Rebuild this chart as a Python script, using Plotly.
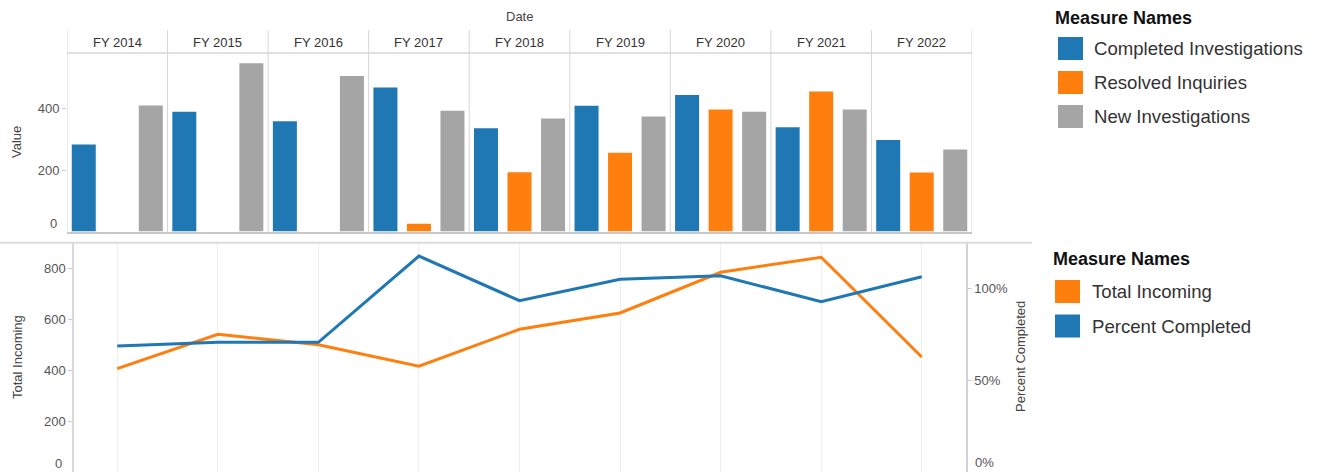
import plotly.graph_objects as go

# ---------------- data ----------------
years = ["FY 2014", "FY 2015", "FY 2016", "FY 2017", "FY 2018",
         "FY 2019", "FY 2020", "FY 2021", "FY 2022"]
completed_investigations = [283, 390, 359, 469, 336, 409, 444, 339, 298]
resolved_inquiries = [None, None, None, 25, 193, 256, 397, 456, 192]
new_investigations = [410, 548, 506, 393, 368, 374, 390, 397, 267]
total_incoming = [406, 541, 500, 416, 561, 625, 785, 844, 452]
percent_completed = [0.688, 0.708, 0.708, 1.179, 0.935, 1.052, 1.071, 0.93, 1.066]

bar_names = ["Completed Investigations", "Resolved Inquiries", "New Investigations"]
line_names = ["Total Incoming", "Percent Completed"]
BLUE, ORANGE, GRAY = "#1F77B4", "#FF7F0E", "#A5A5A5"

W, H = 1320, 473
FONT = "Arial, Liberation Sans, sans-serif"


def px(x):
    return x / W


def py(y):
    return (H - y) / H


fig = go.Figure()

# ---------------- bars (top) ----------------
for name, vals, col in zip(bar_names,
                           [completed_investigations, resolved_inquiries, new_investigations],
                           [BLUE, ORANGE, GRAY]):
    fig.add_trace(go.Bar(x=years, y=vals, name=name, marker_color=col,
                         marker_line_width=0, xaxis="x", yaxis="y", showlegend=False))

# ---------------- lines (bottom) ----------------
fig.add_trace(go.Scatter(x=years, y=total_incoming, name=line_names[0], mode="lines",
                         line=dict(color=ORANGE, width=3), xaxis="x2", yaxis="y2",
                         showlegend=False))
fig.add_trace(go.Scatter(x=years, y=percent_completed, name=line_names[1], mode="lines",
                         line=dict(color=BLUE, width=3), xaxis="x2", yaxis="y3",
                         showlegend=False))

tickfont = dict(family=FONT, size=13, color="#555555")

fig.update_layout(
    width=W, height=H,
    margin=dict(l=0, r=0, t=0, b=0),
    paper_bgcolor="white", plot_bgcolor="white",
    barmode="group", bargap=0, bargroupgap=0.284,
    font=dict(family=FONT, size=13, color="#444444"),
    xaxis=dict(domain=[px(67), px(972)], anchor="y", type="category",
               categoryorder="array", categoryarray=years,
               range=[-0.5, 8.5], showticklabels=False, ticks="",
               showline=True, linecolor="#c8c8c8", linewidth=1.5,
               showgrid=False, zeroline=False),
    yaxis=dict(domain=[py(231.5), py(53.3)], anchor="x", range=[0, 580],
               tickvals=[200, 400], ticks="outside", ticklen=4, tickcolor="#cccccc",
               tickfont=tickfont, showgrid=False, zeroline=False, showline=False),
    xaxis2=dict(domain=[px(74), px(966)], anchor="y2", type="category",
                categoryorder="array", categoryarray=years,
                range=[-0.43, 8.44], showticklabels=False, ticks="",
                showgrid=True, gridcolor="#efefef", gridwidth=1,
                showline=False, zeroline=False),
    yaxis2=dict(domain=[py(472), py(243)], anchor="x2", range=[0, 900],
                tickvals=[200, 400, 600, 800], ticks="outside", ticklen=4,
                tickcolor="#cccccc", tickfont=tickfont, showgrid=False,
                zeroline=False, showline=True, linecolor="#dadada", linewidth=1.5),
    yaxis3=dict(domain=[py(472), py(243)], anchor="x2", overlaying="y2", side="right",
                range=[0, 1.25], tickvals=[0.5, 1.0], tickformat=".0%",
                ticks="outside", ticklen=4, tickcolor="#cccccc", tickfont=tickfont,
                showgrid=False, zeroline=False, showline=True,
                linecolor="#d4d4d4", linewidth=1.5),
)

shapes = []
# facet dividers and header rule
for k in range(len(years) + 1):
    shapes.append(dict(type="line", xref="x", yref="paper", x0=k - 0.5, x1=k - 0.5,
                       y0=py(232), y1=py(30), line=dict(color="#d6d6d6", width=1)))
shapes.append(dict(type="line", xref="x", yref="paper", x0=-0.5, x1=8.5,
                   y0=py(53), y1=py(53), line=dict(color="#d6d6d6", width=1.5)))
# separator between panes
shapes.append(dict(type="line", xref="paper", yref="paper", x0=0, x1=px(1032),
                   y0=py(242.7), y1=py(242.7), line=dict(color="#dcdcdc", width=2)))

annotations = []
for yr in years:
    annotations.append(dict(x=yr, xref="x", y=py(42), yref="paper", text=yr,
                            showarrow=False, font=dict(family=FONT, size=13, color="#333333"),
                            xanchor="center", yanchor="middle"))
annotations += [
    dict(x=px(519.5), y=py(17), xref="paper", yref="paper", text="Date", showarrow=False,
         font=dict(family=FONT, size=13, color="#444444"), xanchor="center", yanchor="middle"),
    dict(x=px(17), y=py(142), xref="paper", yref="paper", text="Value", textangle=-90,
         showarrow=False, font=dict(family=FONT, size=13, color="#444444"),
         xanchor="center", yanchor="middle"),
    dict(x=px(17), y=py(357), xref="paper", yref="paper", text="Total Incoming",
         textangle=-90, showarrow=False, font=dict(family=FONT, size=13, color="#444444"),
         xanchor="center", yanchor="middle"),
    dict(x=px(1020), y=py(357), xref="paper", yref="paper", text="Percent Completed",
         textangle=-90, showarrow=False, font=dict(family=FONT, size=13, color="#444444"),
         xanchor="center", yanchor="middle"),
    # zero labels (Tableau lifts them above the baseline)
    dict(x=px(59), y=py(223), xref="paper", yref="paper", text="0", showarrow=False,
         font=tickfont, xanchor="right", yanchor="middle"),
    dict(x=px(64), y=py(463), xref="paper", yref="paper", text="0", showarrow=False,
         font=tickfont, xanchor="right", yanchor="middle"),
    dict(x=px(973), y=py(462), xref="paper", yref="paper", text="0%", showarrow=False,
         font=tickfont, xanchor="left", yanchor="middle"),
]

# legends
def legend(x_title, y_title, x_sw, x_text, y_first, step, names, colors):
    annotations.append(dict(x=px(x_title), y=py(y_title), xref="paper", yref="paper",
                            text="<b>Measure Names</b>", showarrow=False,
                            font=dict(family=FONT, size=18, color="#111111"),
                            xanchor="left", yanchor="middle"))
    for j, (n, c) in enumerate(zip(names, colors)):
        yc = y_first + j * step
        shapes.append(dict(type="rect", xref="paper", yref="paper",
                           x0=px(x_sw), x1=px(x_sw + 25), y0=py(yc - 11.5), y1=py(yc + 11.5),
                           fillcolor=c, line=dict(width=0)))
        annotations.append(dict(x=px(x_text), y=py(yc), xref="paper", yref="paper", text=n,
                                showarrow=False, font=dict(family=FONT, size=18.6, color="#333333"),
                                xanchor="left", yanchor="middle"))


legend(1053, 18, 1058, 1092, 48.5, 34, bar_names, [BLUE, ORANGE, GRAY])
legend(1051, 259, 1055, 1090, 291.5, 34.5, line_names, [ORANGE, BLUE])

fig.update_layout(shapes=shapes, annotations=annotations)

fig.write_html("out.html", config={"displayModeBar": False},
               post_script="document.body.style.margin='0';document.body.style.overflow='hidden';")
